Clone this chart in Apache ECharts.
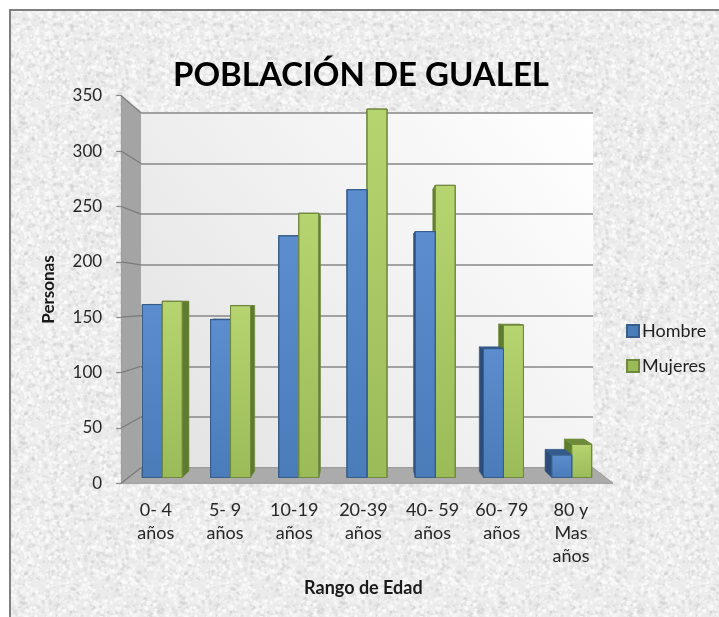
<!DOCTYPE html>
<html>
<head>
<meta charset="utf-8">
<title>Población de Gualel</title>
<script src="https://cdn.jsdelivr.net/npm/echarts@6/dist/echarts.min.js"></script>
<style>
  html, body { margin: 0; padding: 0; background: #ffffff; }
  #chart { width: 719px; height: 617px; }
</style>
</head>
<body>
<div id="chart"></div>
<script>
// ---- data ----
const categories = ['0- 4\naños', '5- 9\naños', '10-19\naños', '20-39\naños', '40- 59\naños', '60- 79\naños', '80 y\nMas\naños'];
const hombre  = [161, 147, 225, 268, 229, 120, 21];
const mujeres = [164, 160, 246, 343, 272, 142, 31];
const seriesNames = ['Hombre', 'Mujeres'];
const valueMin = 0, valueMax = 350, valueStep = 50;
const chartTitle = 'POBLACIÓN DE GUALEL';
const xTitle = 'Rango de Edad';
const yTitle = 'Personas';

// ---- layout of the 3D box (front plane, back wall, bar plane) ----
const FRONT = { left: 121.2, top: 95.7, width: 484.4, height: 387.6 };
const BACK  = { left: 141, top: 112.7, width: 452, height: 355 };
const BARS  = { left: 128.2, top: 101.6, width: 477.6, height: 375.9 };
const FLOOR_RIGHT = 613;
const VP = [367, 300];          // vanishing point of the perspective
const DEPTH = 0.036;            // bar depth as a fraction towards the vanishing point
const BAR_RATIO = 0.293;        // bar width relative to the category band
const FONT = 'Lato, "Open Sans", sans-serif';

const COLORS = {
  Hombre:  { top: '#5C8ECF', base: '#4A7CBA', border: '#385D8A', side: '#2C4C7A', cap: '#345A8C' },
  Mujeres: { top: '#B6D570', base: '#9BBB59', border: '#71893F', side: '#5F7B2D', cap: '#6C8B36' }
};

// granite-like speckle texture for the chart area
function makeTexture() {
  const size = 160;
  const c = document.createElement('canvas');
  c.width = size; c.height = size;
  const g = c.getContext('2d');
  g.fillStyle = '#EBEBEB';
  g.fillRect(0, 0, size, size);
  let seed = 24681;
  const rnd = () => { seed = (seed * 1103515245 + 12345) & 0x7fffffff; return seed / 0x7fffffff; };
  for (let i = 0; i < 3200; i++) {
    const x = rnd() * size, y = rnd() * size;
    const r = 0.6 + rnd() * 1.7;
    const light = rnd() < 0.64;
    const lv = light ? Math.round(242 + rnd() * 13) : Math.round(195 + rnd() * 30);
    g.fillStyle = 'rgba(' + lv + ',' + lv + ',' + lv + ',' + (light ? 0.7 : 0.42) + ')';
    for (const dx of [-size, 0, size]) {
      for (const dy of [-size, 0, size]) {
        g.beginPath();
        g.arc(x + dx, y + dy, r, 0, Math.PI * 2);
        g.fill();
      }
    }
  }
  return c;
}

// one 3D column: side faces and cap first, front face on top
function columnRenderer(name, side) {
  const col = COLORS[name];
  return function (params, api) {
    const i = api.value(0), v = api.value(1);
    const base = api.coord([i, 0]);
    const top = api.coord([i, v]);
    const band = api.size([1, 0])[0];
    const w = band * BAR_RATIO;
    const x0 = base[0] - w + side * w, x1 = x0 + w;
    const yT = top[1], yB = base[1];
    const back = p => [p[0] + (VP[0] - p[0]) * DEPTH, p[1] + (VP[1] - p[1]) * DEPTH];
    const fTL = [x0, yT], fTR = [x1, yT], fBL = [x0, yB], fBR = [x1, yB];
    const bTL = back(fTL), bTR = back(fTR), bBL = back(fBL), bBR = back(fBR);
    // the column nearer the vanishing point hides its neighbour's inner face
    const nearer = base[0] < VP[0] ? side === 1 : side === 0;
    const z = nearer ? 10 : 0;
    const faceStyle = fill => ({ fill: fill, stroke: col.border, lineWidth: 0.6 });
    return {
      type: 'group',
      children: [
        { type: 'polygon', z2: z, shape: { points: [fTL, bTL, bBL, fBL] }, style: faceStyle(col.side) },
        { type: 'polygon', z2: z, shape: { points: [fTR, bTR, bBR, fBR] }, style: faceStyle(col.side) },
        { type: 'polygon', z2: z + 1, shape: { points: [fTL, fTR, bTR, bTL] }, style: faceStyle(col.cap) },
        {
          type: 'rect', z2: z + 2,
          shape: { x: x0, y: yT, width: w, height: yB - yT },
          style: {
            fill: new echarts.graphic.LinearGradient(0, 0, 0, 1, [
              { offset: 0, color: col.top }, { offset: 1, color: col.base }
            ]),
            stroke: col.border, lineWidth: 1
          }
        }
      ]
    };
  };
}

const chart = echarts.init(document.getElementById('chart'), null, { renderer: 'canvas' });

const option = {
  animation: false,
  backgroundColor: '#ffffff',
  textStyle: { fontFamily: FONT },
  legend: {
    data: seriesNames,
    orient: 'vertical',
    left: 621, top: 317,
    icon: 'rect',
    itemWidth: 12, itemHeight: 12,
    itemGap: 17,
    textStyle: { fontFamily: FONT, fontSize: 18, color: '#1f1f1f', padding: [0, 0, 0, -2] }
  },
  grid: [
    { left: FRONT.left, top: FRONT.top, width: FRONT.width, height: FRONT.height, show: false },
    {
      left: BACK.left, top: BACK.top, width: BACK.width, height: BACK.height, show: true,
      borderWidth: 0,
      backgroundColor: new echarts.graphic.LinearGradient(0, 1, 1, 0, [
        { offset: 0, color: '#E2E2E2' }, { offset: 1, color: '#FFFFFF' }
      ])
    },
    { left: BARS.left, top: BARS.top, width: BARS.width, height: BARS.height, show: false }
  ],
  xAxis: [
    {
      gridIndex: 0, type: 'category', data: categories,
      axisLine: { show: false }, axisTick: { show: false }, splitLine: { show: false },
      axisLabel: { interval: 0, margin: 15, fontSize: 18, lineHeight: 23, color: '#262626', fontFamily: FONT },
      name: xTitle, nameLocation: 'middle', nameGap: 96,
      nameTextStyle: { fontFamily: FONT, fontWeight: 'bold', fontSize: 18, color: '#1a1a1a' }
    },
    { gridIndex: 1, type: 'category', data: categories, show: false },
    { gridIndex: 2, type: 'category', data: categories, show: false }
  ],
  yAxis: [
    {
      gridIndex: 0, type: 'value', min: valueMin, max: valueMax, interval: valueStep,
      axisLine: { show: true, lineStyle: { color: '#868686', width: 1.2 } },
      axisTick: { show: true, length: 5, lineStyle: { color: '#868686', width: 1.2 } },
      splitLine: { show: false },
      axisLabel: { margin: 19, fontSize: 17, color: '#262626', fontFamily: FONT },
      name: yTitle, nameLocation: 'middle', nameGap: 64, nameRotate: 90,
      nameTextStyle: { fontFamily: FONT, fontWeight: 'bold', fontSize: 17, color: '#1a1a1a' }
    },
    {
      gridIndex: 1, type: 'value', min: valueMin, max: valueMax, interval: valueStep,
      axisLine: { show: false }, axisTick: { show: false }, axisLabel: { show: false },
      splitLine: { show: true, lineStyle: { color: '#878787', width: 1.6 } }
    },
    { gridIndex: 2, type: 'value', min: valueMin, max: valueMax, interval: valueStep, show: false, splitLine: { show: false } }
  ],
  series: [
    {
      name: seriesNames[0], type: 'custom', xAxisIndex: 2, yAxisIndex: 2, z: 5,
      renderItem: columnRenderer('Hombre', 0),
      encode: { x: 0, y: 1 },
      itemStyle: { color: COLORS.Hombre.base, borderColor: COLORS.Hombre.border, borderWidth: 1 },
      data: hombre.map((v, i) => [i, v])
    },
    {
      name: seriesNames[1], type: 'custom', xAxisIndex: 2, yAxisIndex: 2, z: 5,
      renderItem: columnRenderer('Mujeres', 1),
      encode: { x: 0, y: 1 },
      itemStyle: { color: COLORS.Mujeres.base, borderColor: COLORS.Mujeres.border, borderWidth: 1 },
      data: mujeres.map((v, i) => [i, v])
    }
  ]
};
chart.setOption(option);

// side wall, floor and title, placed from the front and back value axes
const fy = v => chart.convertToPixel({ yAxisIndex: 0 }, v);
const by = v => chart.convertToPixel({ yAxisIndex: 1 }, v);
const backRight = BACK.left + BACK.width;
const ticks = [];
for (let v = valueMin; v <= valueMax; v += valueStep) ticks.push(v);

const elements = [
  {
    type: 'rect', z: -10, silent: true,
    shape: { x: 10, y: 10, width: 730, height: 640 },
    style: { fill: { image: makeTexture(), repeat: 'repeat' }, stroke: '#7F7F7F', lineWidth: 2 }
  },
  {
    type: 'polygon', z: 1, silent: true,
    shape: { points: [[FRONT.left, fy(valueMax)], [BACK.left, by(valueMax)], [BACK.left, by(valueMin)], [FRONT.left, fy(valueMin)]] },
    style: { fill: '#A4A4A4' }
  },
  {
    type: 'polygon', z: 1, silent: true,
    shape: { points: [[FRONT.left, fy(valueMin)], [FLOOR_RIGHT, fy(valueMin)], [backRight, by(valueMin)], [BACK.left, by(valueMin)]] },
    style: { fill: '#ABABAB', stroke: '#9A9A9A', lineWidth: 1 }
  },
  {
    type: 'text', z: 3, silent: true,
    x: 361, y: 75,
    style: { text: chartTitle, font: 'bold 33px ' + FONT, fill: '#000000', textAlign: 'center', textVerticalAlign: 'middle' }
  }
];
ticks.forEach(v => {
  elements.push({
    type: 'line', z: 2, silent: true,
    shape: { x1: FRONT.left, y1: fy(v), x2: BACK.left, y2: by(v) },
    style: { stroke: '#7A7A7A', lineWidth: 1.2 }
  });
});
chart.setOption({ graphic: { elements: elements } });
</script>
</body>
</html>
